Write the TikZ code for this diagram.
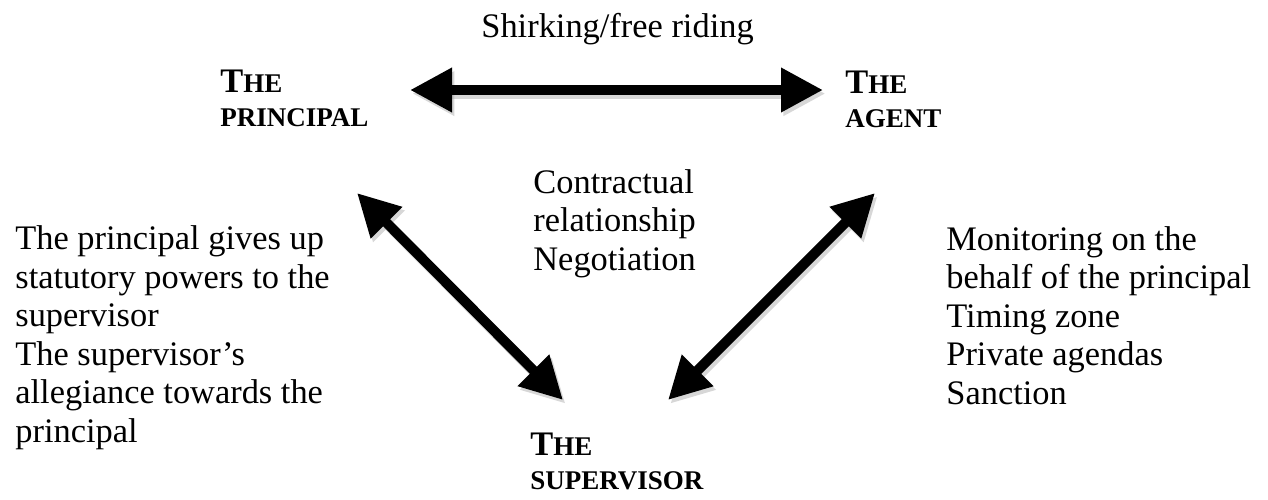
\documentclass[tikz,border=0pt]{standalone}
\usepackage{fontspec}
\setmainfont{Liberation Serif}
\usetikzlibrary{arrows.meta}
\newcommand{\bigT}{{\fontsize{17.2}{17}\selectfont T}}

\begin{document}
\begin{tikzpicture}[x=0.5pt,y=-0.5pt,
    every node/.style={inner sep=0pt,anchor=base west,align=left,font=\fontsize{17.2}{19.25}\selectfont},
    actor/.style={font=\fontsize{13.5}{17}\selectfont\bfseries},
    link/.style={line width=5pt,{Triangle[length=21pt,width=21pt]}-{Triangle[length=21pt,width=21pt]}},
    linkshadow/.style={link,black!35,opacity=0.45,transform canvas={shift={(1.2pt,-1.8pt)}}}]
            \useasboundingbox (0,0) rectangle (1268,499);

            % the three parties (placed by the baseline of their last line)
            \node[actor] (principal) at (220,126) {\bigT HE\\PRINCIPAL};
            \node[actor] (agent) at (845,127) {\bigT HE\\AGENT};
            \node[actor] (supervisor) at (530,489) {\bigT HE\\SUPERVISOR};

            \node (shirking) at (481,37) {Shirking/free riding};
            \node (contract) at (533,270) {Contractual\\relationship\\Negotiation};
            \node (powers) at (15,442) {The principal gives up\\statutory powers to the\\supervisor\\The supervisor’s\\allegiance towards the\\principal};
            \node (monitoring) at (946,404) {Monitoring on the\\behalf of the principal\\Timing zone\\Private agendas\\Sanction};

            % arrow ends
            \coordinate (pa) at (410,90);
            \coordinate (ap) at (823,90);
            \coordinate (ps) at (357,193);
            \coordinate (sp) at (563,400);
            \coordinate (as) at (875,193);
            \coordinate (sa) at (668,400);

            \draw[linkshadow] (pa) -- (ap);
            \draw[linkshadow] (ps) -- (sp);
            \draw[linkshadow] (as) -- (sa);
            \draw[link] (pa) -- (ap);
            \draw[link] (ps) -- (sp);
            \draw[link] (as) -- (sa);
        \end{tikzpicture}
\end{document}
